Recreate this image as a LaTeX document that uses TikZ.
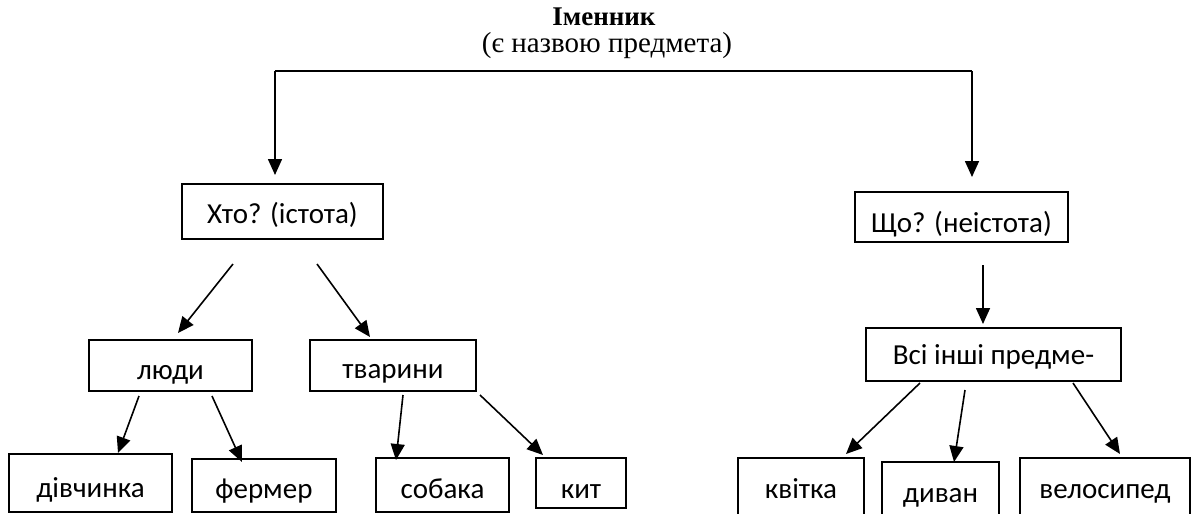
\documentclass[tikz,border=0pt]{standalone}
\usepackage{fontspec}
\setmainfont{Liberation Serif}
\newfontfamily\boxfont{Carlito}
\usetikzlibrary{arrows.meta}
\newcommand{\lowtext}[2]{\raisebox{-#1pt}[0pt][0pt]{#2}}
\begin{document}
\begin{tikzpicture}[x=1pt,y=-1pt,
  box/.style={draw, line width=1.6pt, inner sep=0pt, font=\boxfont\fontsize{29}{33}\selectfont},
  conn/.style={line width=1.6pt, -{Triangle[length=16pt,width=14pt]}},
  topline/.style={line width=2.2pt}]
\useasboundingbox (0,0) rectangle (1192,514);
% title
\node[font=\bfseries\fontsize{27}{31}\selectfont] (title) at (604,17) {Іменник};
\node[font=\fontsize{29}{33}\selectfont] (sub) at (607,46) {(є назвою предмета)};
% level 1
\node[box, minimum width=201pt, minimum height=55pt] (khto) at (282.5,211.5) {\lowtext{11.5}{Хто? (істота)}};
\node[box, minimum width=213pt, minimum height=50pt] (shcho) at (961.5,217) {\lowtext{15}{Що? (неістота)}};
% level 2
\node[box, minimum width=163pt, minimum height=51pt] (lyudy) at (170.5,365.5) {\lowtext{14}{люди}};
\node[box, minimum width=166pt, minimum height=51pt] (tvaryny) at (393,365.5) {\lowtext{13}{тварини}};
\node[box, minimum width=255pt, minimum height=53pt] (inshi) at (993.5,354.5) {\lowtext{9.5}{Всі інші предме-}};
% level 3
\node[box, minimum width=163pt, minimum height=58pt] (divchynka) at (90.5,483) {\lowtext{14}{дівчинка}};
\node[box, minimum width=144pt, minimum height=53pt] (fermer) at (264,485.5) {\lowtext{13}{фермер}};
\node[box, minimum width=133pt, minimum height=54pt] (sobaka) at (442.5,485) {\lowtext{13}{собака}};
\node[box, minimum width=90pt, minimum height=50pt] (kyt) at (581,483) {\lowtext{15}{кит}};
\node[box, minimum width=126pt, minimum height=60pt] (kvitka) at (801,488) {\lowtext{10}{квітка}};
\node[box, minimum width=117pt, minimum height=56pt] (dyvan) at (940.5,490) {\lowtext{12}{диван}};
\node[box, minimum width=170pt, minimum height=60pt] (velosyped) at (1105,488) {\lowtext{10}{велосипед}};
% connector coordinates
\coordinate (tL) at (275,71);
\coordinate (tR) at (972,71);
\coordinate (khtoIn) at (275,175);
\coordinate (shchoIn) at (972,177);
\coordinate (k1s) at (233,264); \coordinate (k1e) at (178,333);
\coordinate (k2s) at (317,264); \coordinate (k2e) at (370,337);
\coordinate (l1s) at (139,396); \coordinate (l1e) at (118,453);
\coordinate (l2s) at (212,396); \coordinate (l2e) at (242,462);
\coordinate (t1s) at (403,395); \coordinate (t1e) at (396,460);
\coordinate (t2s) at (480,395); \coordinate (t2e) at (543,455);
\coordinate (s1s) at (983,265); \coordinate (s1e) at (983,324);
\coordinate (i1s) at (920,383); \coordinate (i1e) at (846,454);
\coordinate (i2s) at (965,390); \coordinate (i2e) at (954,462);
\coordinate (i3s) at (1073,383); \coordinate (i3e) at (1120,454);
% connectors
\draw[topline] (tL) -- (tR);
\draw[conn] (tL) -- (khtoIn);
\draw[conn] (tR) -- (shchoIn);
\draw[conn] (k1s) -- (k1e);
\draw[conn] (k2s) -- (k2e);
\draw[conn] (l1s) -- (l1e);
\draw[conn] (l2s) -- (l2e);
\draw[conn] (t1s) -- (t1e);
\draw[conn] (t2s) -- (t2e);
\draw[conn] (s1s) -- (s1e);
\draw[conn] (i1s) -- (i1e);
\draw[conn] (i2s) -- (i2e);
\draw[conn] (i3s) -- (i3e);
\end{tikzpicture}
\end{document}
